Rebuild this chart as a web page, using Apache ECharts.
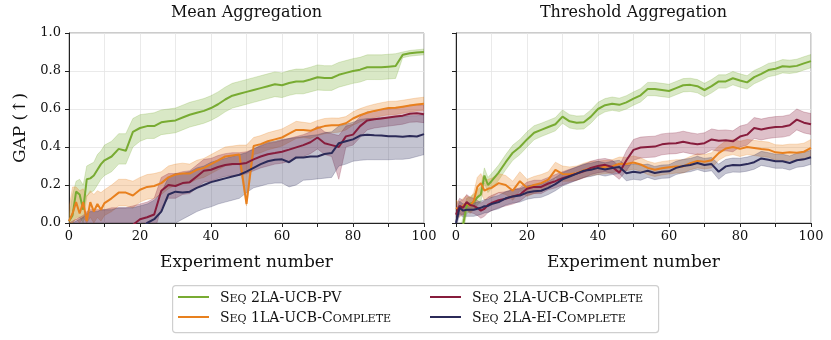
<!DOCTYPE html>
<html>
<head>
<meta charset="utf-8">
<script src="https://cdn.jsdelivr.net/npm/echarts@6/dist/echarts.min.js"></script>
<style>
html, body { margin: 0; padding: 0; background: #fff; }
#chart { width: 831px; height: 340px; }
</style>
</head>
<body>
<div id="chart"></div>
<script>
// experiment numbers shared by every curve
var xs = [0,1,2,3,4,5,6,7,8,9,10,12,14,16,18,20,22,24,26,28,30,32,34,36,38,40,42,44,46,48,50,52,54,56,58,60,62,64,66,68,70,72,74,76,78,80,82,84,86,88,90,92,94,96,98,100];

var names = ['Seq 2LA-UCB-PV', 'Seq 1LA-UCB-Complete', 'Seq 2LA-UCB-Complete', 'Seq 2LA-EI-Complete'];
var colors = ['#78ab32', '#e8801e', '#871c3c', '#2b2a58'];
var titles = ['Mean Aggregation', 'Threshold Aggregation'];

// Mean aggregation
var greenL = [0.01,0.04,0.165,0.15,0.07,0.23,0.235,0.25,0.28,0.31,0.33, 0.35,0.39,0.38,0.48,0.50,0.51,0.51,0.53,0.535,0.54,0.555,0.57,0.58,0.59,0.605,0.625,0.65,0.67,0.68,0.69,0.70,0.71,0.72,0.73,0.725,0.737,0.745,0.745,0.755,0.767,0.763,0.763,0.78,0.79,0.80,0.807,0.82,0.82,0.82,0.823,0.826,0.885,0.893,0.897,0.90];
var greenL_lo = [0.0,0.0,0.03,0.03,0.0,0.14,0.16,0.17,0.2,0.23,0.25, 0.27,0.31,0.31,0.40,0.43,0.445,0.445,0.465,0.47,0.475,0.49,0.505,0.515,0.525,0.54,0.56,0.585,0.605,0.615,0.625,0.635,0.645,0.655,0.665,0.66,0.672,0.68,0.68,0.69,0.70,0.698,0.698,0.715,0.725,0.735,0.742,0.755,0.755,0.755,0.758,0.761,0.87,0.878,0.882,0.885];
var greenL_hi = [0.03,0.15,0.22,0.23,0.2,0.30,0.31,0.32,0.36,0.38,0.41, 0.43,0.47,0.47,0.55,0.57,0.575,0.58,0.595,0.60,0.605,0.62,0.635,0.645,0.655,0.67,0.69,0.715,0.735,0.745,0.755,0.765,0.775,0.785,0.795,0.79,0.802,0.81,0.81,0.82,0.832,0.828,0.828,0.845,0.855,0.865,0.872,0.885,0.885,0.885,0.888,0.891,0.90,0.908,0.912,0.915];

var orangeL = [0.01,0.05,0.11,0.05,0.11,0.01,0.11,0.06,0.10,0.07,0.105, 0.13,0.16,0.16,0.145,0.175,0.19,0.195,0.21,0.24,0.255,0.26,0.26,0.28,0.29,0.31,0.33,0.35,0.355,0.36,0.10,0.405,0.415,0.43,0.44,0.45,0.47,0.49,0.49,0.485,0.50,0.51,0.514,0.515,0.525,0.55,0.567,0.58,0.59,0.598,0.605,0.606,0.612,0.618,0.624,0.628];
var orangeL_lo = [0,0,0.02,0,0.03,0,0.03,0,0.03,0.01,0.04, 0.06,0.09,0.09,0.08,0.11,0.125,0.13,0.15,0.18,0.20,0.205,0.21,0.23,0.24,0.26,0.28,0.30,0.305,0.31,0.09,0.36,0.37,0.385,0.395,0.405,0.425,0.445,0.45,0.445,0.46,0.47,0.475,0.478,0.49,0.515,0.532,0.545,0.555,0.563,0.57,0.571,0.578,0.584,0.59,0.594];
var orangeL_hi = [0.08,0.19,0.19,0.17,0.18,0.14,0.17,0.15,0.17,0.16,0.175, 0.20,0.23,0.23,0.22,0.24,0.255,0.26,0.27,0.30,0.31,0.315,0.31,0.33,0.34,0.36,0.38,0.40,0.405,0.41,0.41,0.45,0.46,0.475,0.485,0.495,0.515,0.535,0.53,0.525,0.54,0.55,0.553,0.552,0.56,0.585,0.602,0.615,0.625,0.633,0.64,0.641,0.646,0.652,0.658,0.662];

var crimsonL = [-0.10,-0.09,-0.08,-0.07,-0.06,-0.05,-0.05,-0.05,-0.04,-0.04,-0.04, -0.04,-0.03,-0.03,-0.01,0.02,0.03,0.045,0.17,0.20,0.195,0.21,0.215,0.245,0.275,0.28,0.295,0.305,0.31,0.31,0.316,0.335,0.35,0.362,0.368,0.375,0.386,0.398,0.41,0.425,0.45,0.42,0.41,0.40,0.456,0.465,0.51,0.54,0.546,0.55,0.555,0.56,0.565,0.575,0.578,0.572];
var crimsonL_lo = [-0.2,-0.2,-0.2,-0.2,-0.18,-0.17,-0.16,-0.16,-0.15,-0.15,-0.14, -0.14,-0.13,-0.12,-0.10,-0.08,-0.07,-0.05,0.08,0.13,0.13,0.15,0.155,0.185,0.215,0.22,0.235,0.245,0.25,0.25,0.26,0.275,0.29,0.30,0.31,0.315,0.325,0.34,0.35,0.365,0.39,0.36,0.35,0.23,0.40,0.41,0.45,0.49,0.50,0.505,0.51,0.515,0.52,0.53,0.532,0.528];
var crimsonL_hi = [0.0,0.01,0.02,0.03,0.04,0.06,0.07,0.07,0.07,0.07,0.07, 0.08,0.08,0.08,0.09,0.10,0.11,0.13,0.24,0.26,0.26,0.27,0.275,0.305,0.335,0.34,0.355,0.365,0.37,0.37,0.375,0.39,0.405,0.42,0.425,0.435,0.445,0.455,0.465,0.48,0.51,0.48,0.47,0.46,0.51,0.52,0.56,0.585,0.59,0.595,0.60,0.605,0.61,0.62,0.622,0.618];

var navyL = [-0.12,-0.12,-0.12,-0.11,-0.11,-0.10,-0.10,-0.10,-0.09,-0.09,-0.09, -0.08,-0.08,-0.07,-0.06,-0.04,0.0,0.02,0.06,0.15,0.165,0.16,0.165,0.185,0.20,0.215,0.225,0.235,0.245,0.254,0.27,0.29,0.31,0.325,0.333,0.335,0.32,0.345,0.345,0.35,0.35,0.363,0.368,0.42,0.43,0.44,0.46,0.465,0.462,0.46,0.456,0.456,0.454,0.458,0.455,0.468];
var navyL_lo = [-0.3,-0.3,-0.3,-0.3,-0.3,-0.28,-0.28,-0.28,-0.27,-0.27,-0.26, -0.25,-0.25,-0.24,-0.23,-0.21,-0.18,-0.15,-0.10,-0.02,0.0,0.02,0.04,0.06,0.075,0.085,0.10,0.11,0.12,0.13,0.16,0.185,0.195,0.205,0.21,0.21,0.19,0.20,0.225,0.228,0.232,0.236,0.24,0.30,0.31,0.325,0.33,0.333,0.333,0.333,0.333,0.335,0.335,0.34,0.35,0.36];
var navyL_hi = [-0.02,0.0,0.01,0.02,0.03,0.05,0.06,0.06,0.06,0.07,0.07, 0.07,0.08,0.08,0.08,0.09,0.10,0.12,0.16,0.24,0.26,0.26,0.27,0.29,0.30,0.32,0.33,0.34,0.35,0.36,0.37,0.39,0.41,0.425,0.43,0.44,0.445,0.45,0.455,0.46,0.465,0.475,0.48,0.51,0.52,0.53,0.545,0.55,0.55,0.555,0.555,0.56,0.56,0.565,0.565,0.57];

// Threshold aggregation
var greenR = [-0.15,-0.08,-0.01,0.09,0.10,0.11,0.135,0.15,0.25,0.20,0.22, 0.265,0.32,0.37,0.40,0.44,0.475,0.49,0.505,0.52,0.56,0.535,0.528,0.53,0.56,0.60,0.62,0.628,0.622,0.635,0.655,0.672,0.705,0.705,0.70,0.695,0.71,0.725,0.727,0.72,0.70,0.72,0.745,0.745,0.762,0.75,0.74,0.768,0.785,0.805,0.812,0.825,0.822,0.827,0.84,0.852];
var greenR_lo = [-0.2,-0.12,-0.05,0.05,0.06,0.07,0.095,0.11,0.21,0.16,0.18, 0.225,0.28,0.33,0.36,0.40,0.438,0.455,0.47,0.485,0.525,0.50,0.493,0.495,0.525,0.565,0.585,0.593,0.587,0.60,0.62,0.637,0.67,0.67,0.665,0.66,0.675,0.69,0.692,0.685,0.665,0.685,0.71,0.71,0.727,0.715,0.705,0.733,0.75,0.77,0.777,0.79,0.787,0.792,0.805,0.817];
var greenR_hi = [-0.1,-0.04,0.03,0.13,0.14,0.15,0.175,0.19,0.29,0.24,0.26, 0.305,0.36,0.41,0.44,0.48,0.512,0.525,0.54,0.555,0.595,0.57,0.563,0.565,0.595,0.635,0.655,0.663,0.657,0.67,0.69,0.707,0.74,0.74,0.735,0.73,0.745,0.76,0.762,0.755,0.735,0.755,0.78,0.78,0.797,0.785,0.775,0.803,0.82,0.84,0.847,0.86,0.857,0.862,0.875,0.887];

var orangeR = [0.08,0.07,0.09,0.105,0.09,0.115,0.19,0.21,0.17,0.18,0.185, 0.21,0.20,0.17,0.22,0.185,0.20,0.21,0.228,0.28,0.258,0.256,0.262,0.278,0.288,0.29,0.296,0.298,0.312,0.31,0.318,0.308,0.29,0.28,0.288,0.293,0.298,0.298,0.315,0.327,0.322,0.33,0.368,0.392,0.40,0.39,0.40,0.395,0.39,0.386,0.372,0.368,0.372,0.37,0.375,0.395];
var orangeR_lo = [0.04,0.03,0.05,0.065,0.05,0.07,0.14,0.16,0.12,0.13,0.135, 0.16,0.15,0.12,0.17,0.14,0.155,0.165,0.185,0.24,0.22,0.22,0.225,0.24,0.25,0.255,0.26,0.263,0.277,0.275,0.283,0.273,0.255,0.245,0.253,0.258,0.263,0.263,0.28,0.29,0.285,0.29,0.33,0.352,0.36,0.35,0.36,0.355,0.35,0.346,0.332,0.327,0.33,0.328,0.332,0.35];
var orangeR_hi = [0.12,0.11,0.13,0.145,0.13,0.16,0.24,0.26,0.22,0.23,0.235, 0.26,0.25,0.22,0.27,0.23,0.245,0.255,0.27,0.32,0.30,0.295,0.30,0.315,0.325,0.325,0.33,0.333,0.347,0.345,0.353,0.343,0.325,0.315,0.323,0.328,0.333,0.333,0.35,0.365,0.36,0.37,0.405,0.432,0.44,0.43,0.44,0.435,0.43,0.426,0.412,0.41,0.415,0.415,0.42,0.44];

var crimsonR = [0.044,0.09,0.08,0.11,0.095,0.09,0.08,0.065,0.075,0.095,0.105, 0.12,0.128,0.14,0.15,0.18,0.19,0.19,0.208,0.22,0.236,0.248,0.26,0.272,0.29,0.30,0.306,0.295,0.265,0.33,0.385,0.397,0.40,0.402,0.414,0.418,0.42,0.428,0.42,0.414,0.42,0.44,0.433,0.435,0.43,0.455,0.465,0.50,0.492,0.50,0.505,0.507,0.514,0.544,0.528,0.52];
var crimsonR_lo = [0.0,0.05,0.04,0.07,0.055,0.05,0.04,0.025,0.035,0.055,0.065, 0.08,0.09,0.10,0.115,0.145,0.155,0.155,0.175,0.185,0.20,0.213,0.225,0.237,0.255,0.265,0.27,0.26,0.23,0.275,0.33,0.342,0.345,0.347,0.359,0.363,0.365,0.373,0.365,0.359,0.365,0.385,0.378,0.38,0.375,0.40,0.41,0.445,0.437,0.445,0.45,0.452,0.46,0.49,0.474,0.466];
var crimsonR_hi = [0.09,0.13,0.12,0.15,0.135,0.13,0.12,0.105,0.115,0.135,0.145, 0.16,0.165,0.175,0.185,0.215,0.225,0.225,0.24,0.255,0.27,0.283,0.295,0.307,0.325,0.335,0.34,0.33,0.30,0.38,0.44,0.452,0.455,0.457,0.469,0.473,0.475,0.483,0.475,0.469,0.475,0.495,0.488,0.49,0.485,0.51,0.52,0.555,0.547,0.555,0.56,0.562,0.57,0.60,0.584,0.576];

var navyR = [0.0,0.08,0.065,0.07,0.07,0.07,0.075,0.08,0.088,0.09,0.10, 0.11,0.13,0.14,0.145,0.16,0.167,0.17,0.185,0.205,0.23,0.245,0.26,0.275,0.28,0.29,0.282,0.29,0.295,0.262,0.27,0.265,0.275,0.263,0.27,0.272,0.29,0.30,0.305,0.316,0.305,0.31,0.27,0.298,0.305,0.304,0.31,0.32,0.34,0.333,0.325,0.325,0.316,0.33,0.335,0.346];
var navyR_lo = [-0.03,0.045,0.03,0.035,0.035,0.035,0.04,0.045,0.053,0.055,0.065, 0.075,0.095,0.105,0.11,0.125,0.132,0.135,0.15,0.17,0.195,0.21,0.225,0.24,0.245,0.255,0.247,0.255,0.26,0.222,0.23,0.225,0.24,0.228,0.235,0.237,0.255,0.265,0.27,0.281,0.27,0.275,0.23,0.26,0.268,0.267,0.273,0.283,0.303,0.296,0.288,0.288,0.279,0.293,0.298,0.309];
var navyR_hi = [0.06,0.115,0.10,0.105,0.105,0.105,0.11,0.115,0.123,0.125,0.135, 0.145,0.165,0.175,0.18,0.195,0.202,0.205,0.22,0.24,0.265,0.28,0.295,0.31,0.315,0.325,0.317,0.325,0.33,0.302,0.31,0.305,0.31,0.298,0.305,0.307,0.325,0.335,0.34,0.351,0.34,0.345,0.31,0.335,0.342,0.341,0.347,0.357,0.377,0.37,0.362,0.362,0.353,0.367,0.372,0.383];

var panels = [
    { mean: [greenL, orangeL, crimsonL, navyL], lo: [greenL_lo, orangeL_lo, crimsonL_lo, navyL_lo], hi: [greenL_hi, orangeL_hi, crimsonL_hi, navyL_hi] },
    { mean: [greenR, orangeR, crimsonR, navyR], lo: [greenR_lo, orangeR_lo, crimsonR_lo, navyR_lo], hi: [greenR_hi, orangeR_hi, crimsonR_hi, navyR_hi] }
];

var FONT = 'DejaVu Serif';
var gridLeft = [69, 456];
var gridW = 355;

function pts(arr) {
    return xs.map(function (x, i) { return [x, arr[i]]; });
}
function rgba(hex, a) {
    var n = parseInt(hex.slice(1), 16);
    return 'rgba(' + (n >> 16 & 255) + ',' + (n >> 8 & 255) + ',' + (n & 255) + ',' + a + ')';
}
// fake small caps with rich text: lower case letters become smaller capitals
function smallCaps(str) {
    var out = '', cur = null, buf = '';
    for (var i = 0; i < str.length; i++) {
        var ch = str[i];
        var t = (ch >= 'a' && ch <= 'z') ? 's' : 'b';
        if (t !== cur && buf) { out += '{' + cur + '|' + buf + '}'; buf = ''; }
        cur = t;
        buf += t === 's' ? ch.toUpperCase() : ch;
    }
    if (buf) out += '{' + cur + '|' + buf + '}';
    return out;
}

// shaded band: one polygon through the lower and upper bounds
function bandSeries(g, k, lo, hi) {
    return {
        type: 'custom', name: 'band' + g + k, xAxisIndex: g, yAxisIndex: g,
        silent: true, clip: true, z: 1,
        data: xs.map(function (x, i) { return [x, lo[i], hi[i]]; }),
        encode: { x: 0, y: [1, 2] },
        renderItem: function (params, api) {
            if (params.dataIndex !== 0) return;
            var up = [], down = [];
            for (var i = 0; i < xs.length; i++) {
                up.push(api.coord([xs[i], hi[i]]));
                down.unshift(api.coord([xs[i], lo[i]]));
            }
            return {
                type: 'polygon',
                shape: { points: up.concat(down) },
                style: { fill: rgba(colors[k], 0.28), stroke: rgba(colors[k], 0.3), lineWidth: 0.8 }
            };
        }
    };
}

var series = [];
panels.forEach(function (p, g) {
    for (var k = 0; k < 4; k++) {
        series.push(bandSeries(g, k, p.lo[k], p.hi[k]));
    }
    for (var k = 0; k < 4; k++) {
        series.push({
            type: 'line', name: names[k], xAxisIndex: g, yAxisIndex: g,
            data: pts(p.mean[k]), symbol: 'none', z: 3,
            itemStyle: { color: colors[k] },
            lineStyle: { color: colors[k], width: 2 }
        });
    }
});

var legendText = {
    fontFamily: FONT, color: '#111', padding: [0, 0, 0, 6],
    rich: {
        b: { fontFamily: FONT, fontSize: 14, color: '#111', verticalAlign: 'bottom', lineHeight: 16 },
        s: { fontFamily: FONT, fontSize: 11, color: '#111', verticalAlign: 'bottom', lineHeight: 16 }
    }
};
function makeLegend(list, left) {
    return {
        data: list, orient: 'vertical', left: left, top: 291, padding: 0,
        icon: 'rect', itemWidth: 31, itemHeight: 2, itemGap: 6,
        selectedMode: false,
        formatter: function (n) { return smallCaps(n); },
        textStyle: legendText
    };
}

var chart = echarts.init(document.getElementById('chart'), null, { renderer: 'canvas' });
var option = {
    animation: false,
    backgroundColor: '#fff',
    title: titles.map(function (t, g) {
        return {
            text: t, left: gridLeft[g] + gridW / 2, top: 5, padding: 0, textAlign: 'center',
            textStyle: { fontFamily: FONT, fontSize: 16, fontWeight: 'normal', color: '#111' }
        };
    }),
    grid: [0, 1].map(function (g) {
        return { left: gridLeft[g], top: 33, width: gridW, height: 190, show: true, borderColor: '#999', borderWidth: 1 };
    }),
    legend: [makeLegend([names[0], names[1]], 178), makeLegend([names[2], names[3]], 430)],
    graphic: [{
        type: 'rect', left: 172, top: 285, z: -1,
        shape: { width: 486, height: 47, r: 3 },
        style: { fill: '#fff', stroke: '#cfcfcf', lineWidth: 1.2 }
    }],
    xAxis: [0, 1].map(function (g) {
        return {
            gridIndex: g, type: 'value', min: 0, max: 100, interval: 10,
            name: 'Experiment number', nameLocation: 'middle', nameGap: 31,
            nameTextStyle: { fontFamily: FONT, fontSize: 17, color: '#111' },
            axisLine: { show: true, onZero: false, lineStyle: { color: '#222', width: 1 } },
            axisTick: { show: true, length: 4, lineStyle: { color: '#222' } },
            axisLabel: {
                fontFamily: FONT, fontSize: 13, color: '#111', margin: 7,
                formatter: function (v) { return v % 20 === 0 ? String(v) : ''; }
            },
            splitLine: { show: true, lineStyle: { color: '#e4e4e4', width: 0.8 } }
        };
    }),
    yAxis: [0, 1].map(function (g) {
        return {
            gridIndex: g, type: 'value', min: 0, max: 1, interval: 0.2,
            name: g === 0 ? 'GAP (↑)' : '', nameLocation: 'middle', nameGap: 40,
            nameTextStyle: { fontFamily: FONT, fontSize: 17, color: '#111' },
            axisLine: { show: true, onZero: false, lineStyle: { color: '#222', width: 1 } },
            axisTick: { show: true, length: 4, lineStyle: { color: '#222' } },
            axisLabel: {
                show: g === 0, fontFamily: FONT, fontSize: 13, color: '#111', margin: 8,
                formatter: function (v) { return v.toFixed(1); }
            },
            splitLine: { show: true, lineStyle: { color: '#e4e4e4', width: 0.8 } }
        };
    }),
    series: series
};
chart.setOption(option);
</script>
</body>
</html>
